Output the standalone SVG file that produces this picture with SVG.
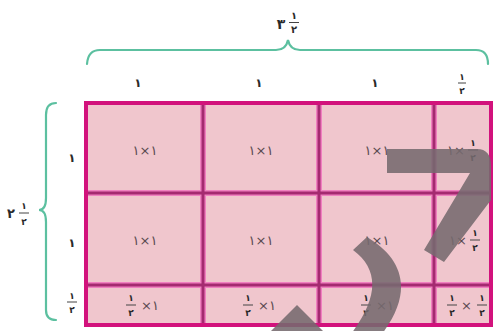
<svg xmlns="http://www.w3.org/2000/svg" width="496" height="331" viewBox="0 0 496 331">
<style>
.t{font-family:"DejaVu Sans","Noto Sans",sans-serif;fill:#2a2a2a;text-anchor:middle;font-weight:bold}
.c{font-size:13px;fill:#5a4a50;font-weight:normal;letter-spacing:1px}
.f{font-size:9px}
.bar{stroke:#444;stroke-width:1}
.brace{fill:none;stroke:#5cc0a0;stroke-width:2.2;stroke-linecap:round}
.inner{stroke:#a42a70;stroke-width:3}
.halo{stroke:#f080c0;stroke-width:6}
.wm{fill:#756a6e;fill-opacity:0.88}
</style>
<rect width="496" height="331" fill="#fff"/>
<g id="grid">
<rect x="86" y="103" width="405" height="222" fill="#f0c6cd"/>
<g class="halo">
<line x1="203" y1="103" x2="203" y2="325"/><line x1="319" y1="103" x2="319" y2="325"/><line x1="434" y1="103" x2="434" y2="325"/>
<line x1="86" y1="193" x2="491" y2="193"/><line x1="86" y1="285" x2="491" y2="285"/>
</g>
<g class="inner">
<line x1="203" y1="103" x2="203" y2="325"/><line x1="319" y1="103" x2="319" y2="325"/><line x1="434" y1="103" x2="434" y2="325"/>
<line x1="86" y1="193" x2="491" y2="193"/><line x1="86" y1="285" x2="491" y2="285"/>
</g>
<rect x="86" y="103" width="405" height="222" fill="none" stroke="#d2127c" stroke-width="4"/>
</g>
<g id="braces">
<path class="brace" d="M87,64 Q88,50 100,50 H276 Q286,50 288,40 Q290,50 300,50 H476 Q488,50 488,64"/>
<path class="brace" d="M56,103 Q46,103 46,115 V198 Q46,210 39,210 Q46,210 46,222 V310 Q46,320 56,320"/>
</g>
<g id="top-label">
<text class="t" x="281" y="29" font-size="14">۳</text>
<text class="t" x="294" y="19" font-size="10">۱</text>
<line class="bar" x1="289" y1="22.5" x2="299" y2="22.5"/>
<text class="t" x="294" y="33" font-size="10">۲</text>
</g>
<g id="left-label">
<text class="t" x="11" y="218" font-size="13">۲</text>
<text class="t" x="24" y="209" font-size="9">۱</text>
<line class="bar" x1="19" y1="213" x2="29" y2="213"/>
<text class="t" x="24" y="225" font-size="9">۲</text>
</g>
<g id="col-labels" font-size="12">
<text class="t" x="138" y="87">۱</text>
<text class="t" x="259" y="87">۱</text>
<text class="t" x="375" y="87">۱</text>
<text class="t f" x="462" y="80">۱</text>
<line class="bar" x1="458" y1="83" x2="466" y2="83" stroke-width="0.6"/>
<text class="t f" x="462" y="94">۲</text>
</g>
<g id="row-labels" font-size="12">
<text class="t" x="72" y="162">۱</text>
<text class="t" x="72" y="247">۱</text>
<text class="t f" x="72" y="299">۱</text>
<line class="bar" x1="67" y1="302" x2="77" y2="302"/>
<text class="t f" x="72" y="313">۲</text>
</g>
<g id="cells">
<text class="t c" x="145" y="155">۱×۱</text>
<text class="t c" x="261" y="155">۱×۱</text>
<text class="t c" x="377" y="155">۱×۱</text>
<g id="cell-r1c4">
<text class="t c" x="456" y="155">۱×</text>
<text class="t f" x="473" y="146">۱</text>
<line class="bar" x1="468" y1="150" x2="478" y2="150"/>
<text class="t f" x="473" y="161">۲</text>
</g>
<text class="t c" x="145" y="245">۱×۱</text>
<text class="t c" x="261" y="245">۱×۱</text>
<text class="t c" x="377" y="245">۱×۱</text>
<g id="cell-r2c4">
<text class="t c" x="458" y="245">۱×</text>
<text class="t f" x="475" y="236">۱</text>
<line class="bar" x1="470" y1="240" x2="480" y2="240"/>
<text class="t f" x="475" y="251">۲</text>
</g>
<g id="cell-r3c1">
<text class="t f" x="131" y="301">۱</text>
<line class="bar" x1="126" y1="305" x2="136" y2="305"/>
<text class="t f" x="131" y="316">۲</text>
<text class="t c" x="150" y="310">×۱</text>
</g>
<g id="cell-r3c2">
<text class="t f" x="248" y="301">۱</text>
<line class="bar" x1="243" y1="305" x2="253" y2="305"/>
<text class="t f" x="248" y="316">۲</text>
<text class="t c" x="267" y="310">×۱</text>
</g>
<g id="cell-r3c3">
<text class="t f" x="366" y="301">۱</text>
<line class="bar" x1="361" y1="305" x2="371" y2="305"/>
<text class="t f" x="366" y="316">۲</text>
<text class="t c" x="385" y="310">×۱</text>
</g>
<g id="cell-r3c4">
<text class="t f" x="452" y="301">۱</text>
<line class="bar" x1="447" y1="305" x2="457" y2="305"/>
<text class="t f" x="452" y="316">۲</text>
<text class="t c" x="467" y="310">×</text>
<text class="t f" x="482" y="301">۱</text>
<line class="bar" x1="477" y1="305" x2="487" y2="305"/>
<text class="t f" x="482" y="316">۲</text>
</g>
</g>
<g id="watermark">
<path class="wm" d="M387,149 H477 Q491,149 491,166 V200 L444,262 L424,250 L470,173 H387 Z"/>
<path class="wm" d="M353,250 L367,237 C402,258 415,290 382,334 L351,334 C378,298 380,270 353,250 Z"/>
<polygon class="wm" points="297,305 326,334 268,334"/>
</g>
</svg>
